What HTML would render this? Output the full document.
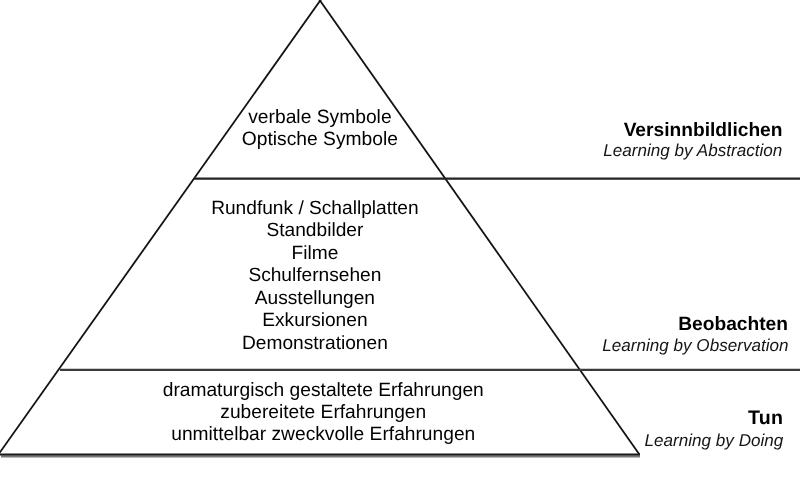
<!DOCTYPE html>
<html><head><meta charset="utf-8">
<style>
html,body{margin:0;padding:0;background:#fff;}
body{width:800px;height:480px;position:relative;overflow:hidden;font-family:"Liberation Sans",sans-serif;}
svg{position:absolute;left:0;top:0;filter:blur(0.3px);}
text{font-family:"Liberation Sans",sans-serif;fill:#000;text-rendering:geometricPrecision;}
.c{font-size:19.3px;text-anchor:middle;fill:#111;}
.b{font-size:19.2px;font-weight:bold;text-anchor:end;}
.i{font-size:17.1px;font-style:italic;text-anchor:end;fill:#151515;}
</style></head><body>
<svg width="800" height="480" viewBox="0 0 800 480">
<g fill="none">
<line x1="321.3" y1="-1" x2="-1.6" y2="454.5" stroke="#111" stroke-width="1.8"/>
<line x1="318.9" y1="-1" x2="639.45" y2="454.5" stroke="#111" stroke-width="1.8"/>
<line x1="194" y1="178.7" x2="800" y2="178.7" stroke="#222" stroke-width="2.3"/>
<line x1="60" y1="369.9" x2="800" y2="369.9" stroke="#3a3a3a" stroke-width="2.4"/>
<line x1="1" y1="456.4" x2="640" y2="456.4" stroke="#777" stroke-width="2.4"/>
<line x1="-1" y1="454.5" x2="640" y2="454.5" stroke="#1a1a1a" stroke-width="1.8"/>
</g>
<g class="c">
<text x="319.9" y="123" style="font-size:19.25px">verbale Symbole</text>
<text x="319.9" y="145.2" style="font-size:19.25px">Optische Symbole</text>
<text x="314.9" y="213.8" style="font-size:19.15px">Rundfunk / Schallplatten</text>
<text x="314.9" y="236.3" style="font-size:19.15px">Standbilder</text>
<text x="314.9" y="258.8" style="font-size:19.15px">Filme</text>
<text x="314.9" y="281.3" style="font-size:19.15px">Schulfernsehen</text>
<text x="314.9" y="303.8" style="font-size:19.15px">Ausstellungen</text>
<text x="314.9" y="326.3" style="font-size:19.15px">Exkursionen</text>
<text x="314.9" y="348.8" style="font-size:19.15px">Demonstrationen</text>
<text x="323.25" y="395.8" style="font-size:19.2px">dramaturgisch gestaltete Erfahrungen</text>
<text x="323.25" y="418" style="font-size:19.2px">zubereitete Erfahrungen</text>
<text x="323.25" y="440.2" style="font-size:19.2px">unmittelbar zweckvolle Erfahrungen</text>
</g>
<text class="b" x="782.5" y="136">Versinnbildlichen</text>
<text class="i" x="782.3" y="156.4">Learning by Abstraction</text>
<text class="b" x="788" y="330.4">Beobachten</text>
<text class="i" x="788.5" y="351">Learning by Observation</text>
<text class="b" x="783.4" y="424.2" style="font-size:19.6px;letter-spacing:0.3px">Tun</text>
<text class="i" x="783.3" y="445.5">Learning by Doing</text>
</svg>
</body></html>
